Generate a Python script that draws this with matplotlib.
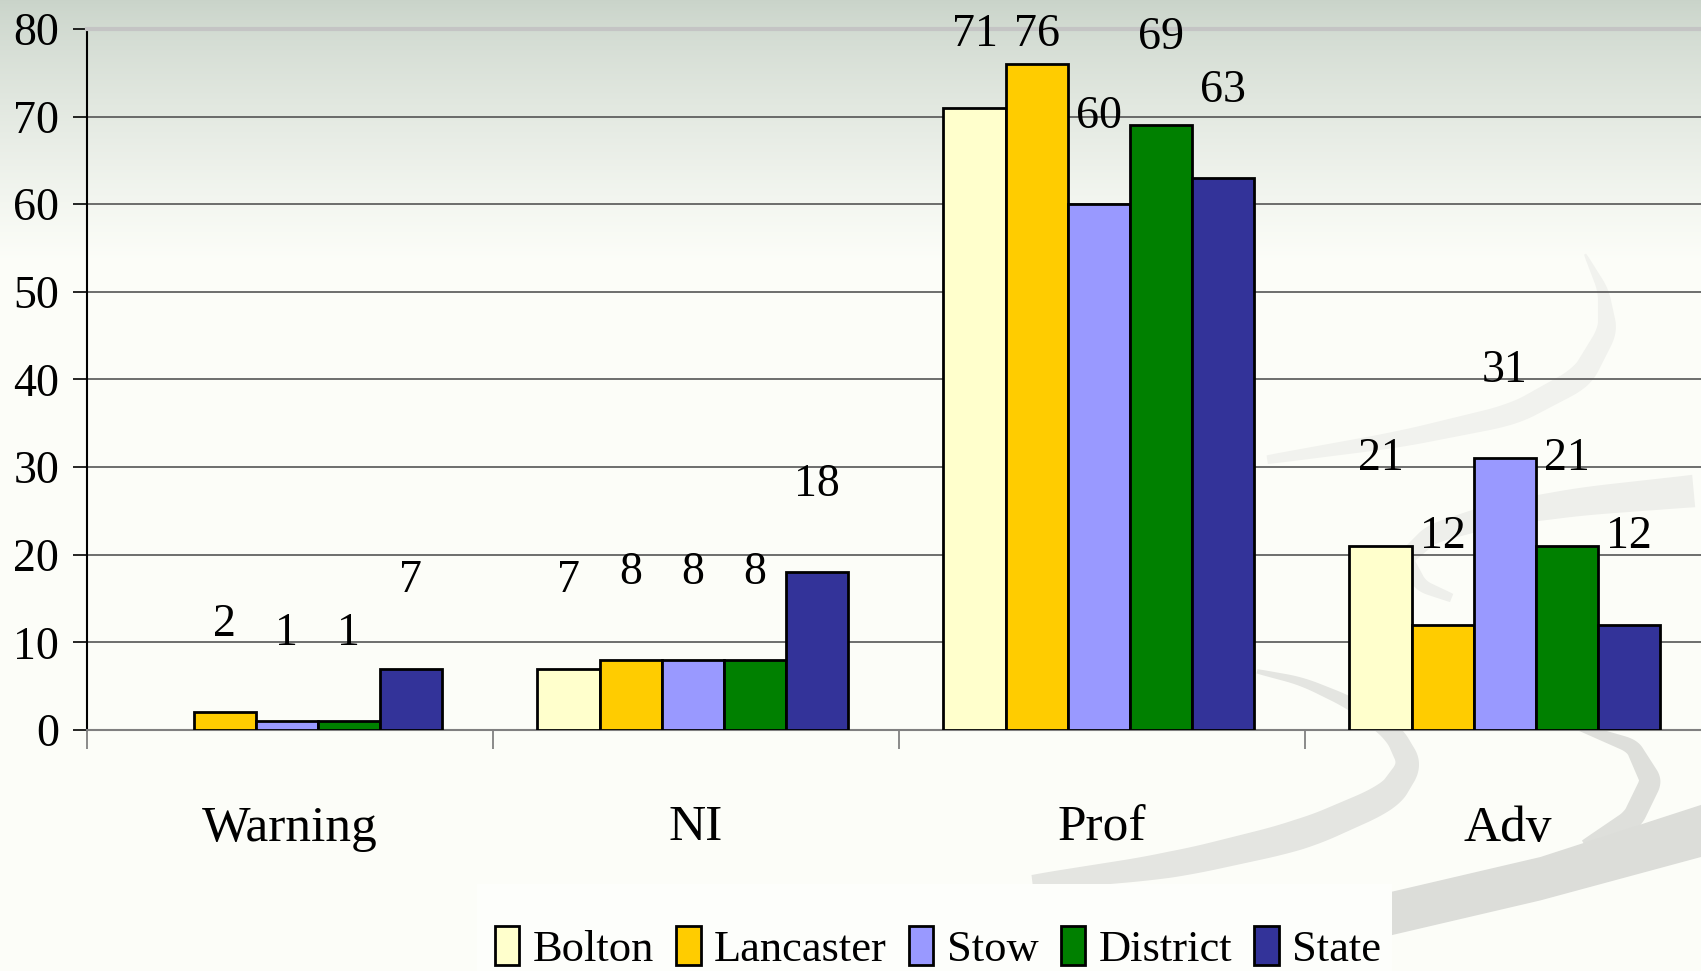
import numpy as np
import matplotlib.pyplot as plt
from matplotlib.patches import Polygon, Rectangle, Patch

categories = ['Warning', 'NI', 'Prof', 'Adv']
series_names = ['Bolton', 'Lancaster', 'Stow', 'District', 'State']
bolton = [0, 7, 71, 21]
lancaster = [2, 8, 76, 12]
stow = [1, 8, 60, 31]
district = [1, 8, 69, 21]
state = [7, 18, 63, 12]
series = [bolton, lancaster, stow, district, state]
colors = ['#FFFFCC', '#FFCC00', '#9999FF', '#008000', '#333399']

W, H = 1701, 971
k = W / 1568.0  # decoration sketched on the 1568-wide view

plt.rcParams['font.family'] = ['Liberation Serif', 'DejaVu Serif']

fig = plt.figure(figsize=(W / 100, H / 100), dpi=100)

# background: soft gradient + grey swooshes
bg = fig.add_axes([0, 0, 1, 1], zorder=0)
bg.set_xlim(0, W)
bg.set_ylim(H, 0)
bg.axis('off')
rows = np.arange(H)
top = np.array([0.79, 0.83, 0.79])
low = np.array([0.99, 0.995, 0.975])
f = np.clip(rows / 260.0, 0, 1)[:, None] ** 0.8
grad = top * (1 - f) + low * f
img = np.repeat(grad[:, None, :], 2, axis=1)
bg.imshow(img, extent=(0, W, H, 0), aspect='auto', zorder=0)


def band(pts, widths, color):
    pts = np.array(pts, float) * k
    wd = np.array(widths, float) * k
    t = np.linspace(0, 1, len(pts))
    tt = np.linspace(0, 1, 300)
    x = np.interp(tt, t, pts[:, 0])
    y = np.interp(tt, t, pts[:, 1])
    w = np.interp(tt, t, wd)
    ker = np.ones(25) / 25
    x = np.convolve(np.pad(x, 12, mode='edge'), ker, mode='valid')
    y = np.convolve(np.pad(y, 12, mode='edge'), ker, mode='valid')
    dx, dy = np.gradient(x), np.gradient(y)
    n = np.hypot(dx, dy)
    nx, ny = -dy / n, dx / n
    upper = np.column_stack([x + nx * w / 2, y + ny * w / 2])
    lower = np.column_stack([x - nx * w / 2, y - ny * w / 2])[::-1]
    bg.add_patch(Polygon(np.vstack([upper, lower]), closed=True,
                         facecolor=color, edgecolor='none', zorder=1))


band([(1460, 232), (1478, 268), (1482, 305), (1458, 348), (1395, 382), (1290, 405), (1160, 425)],
     [2, 10, 18, 22, 20, 15, 8], '#f1f2ee')
band([(1568, 452), (1460, 462), (1380, 474), (1320, 492), (1295, 515), (1310, 540), (1340, 552)],
     [30, 26, 22, 18, 15, 12, 8], '#eeefeb')
band([(1155, 618), (1200, 628), (1245, 648), (1285, 676), (1300, 705), (1280, 735),
      (1200, 770), (1080, 798), (940, 815)],
     [4, 8, 12, 18, 22, 26, 28, 24, 14], '#e4e5e1')
band([(1450, 668), (1505, 688), (1522, 720), (1505, 755), (1460, 782)],
     [6, 14, 20, 20, 14], '#dedfdb')
bg.add_patch(Polygon(np.array([(1283, 822), (1420, 790), (1568, 742), (1568, 790),
                               (1420, 830), (1283, 862)]) * k,
                     closed=True, facecolor='#dcddd9', edgecolor='none', zorder=1))
bg.add_patch(Rectangle((477, 884), 915, 90, facecolor='#fdfefb', edgecolor='none', zorder=2))

# main chart
ax = fig.add_axes([87 / W, 1 - 730 / H, 1624 / W, 701 / H], zorder=2)
ax.patch.set_alpha(0)

x = np.arange(len(categories)) + 0.5
bar_w = 0.153
shift = -0.008
for j, (name, vals, c) in enumerate(zip(series_names, series, colors)):
    pos = x + (j - 2) * bar_w + shift
    bars = ax.bar(pos, vals, bar_w, color=c, edgecolor='black', linewidth=2, zorder=3)
    for b, xp, v in zip(bars, pos, vals):
        if v == 0:
            b.set_visible(False)
            continue
        ax.text(xp, min(v + 10.0, 79.4), str(v), ha='center', va='center',
                fontsize=33, clip_on=False, zorder=4)

ax.set_xlim(0, len(categories))
ax.set_ylim(0, 80)
ax.set_yticks(range(0, 81, 10))
ax.tick_params(axis='y', length=10, width=1.2, pad=10, labelsize=33, direction='out')
ax.set_xticks(range(len(categories) + 1))
ax.set_xticklabels([])
ax.tick_params(axis='x', which='major', length=14, width=1.2, color='#777777', direction='out')
ax.set_xticks(x, minor=True)
ax.set_xticklabels(categories, minor=True)
ax.tick_params(axis='x', which='minor', length=0, pad=54, labelsize=37)

ax.yaxis.grid(True, color='#555555', linewidth=1.2, zorder=1)
ax.set_axisbelow(True)
ax.spines['left'].set_color('black')
ax.spines['left'].set_linewidth(1.5)
ax.spines['bottom'].set_color('#808080')
ax.spines['bottom'].set_linewidth(1.5)
ax.spines['top'].set_color('#c4c4c4')
ax.spines['top'].set_linewidth(3)
ax.spines['right'].set_visible(False)

handles = [Patch(facecolor=c, edgecolor='black', linewidth=2) for c in colors]
fig.legend(handles, series_names, loc='center', bbox_to_anchor=(938 / W, 1 - 948 / H),
           ncol=5, frameon=False, fontsize=32, handlelength=0.55, handleheight=0.95,
           handletextpad=0.3, columnspacing=0.5)

fig.savefig('out.png', dpi=100)
